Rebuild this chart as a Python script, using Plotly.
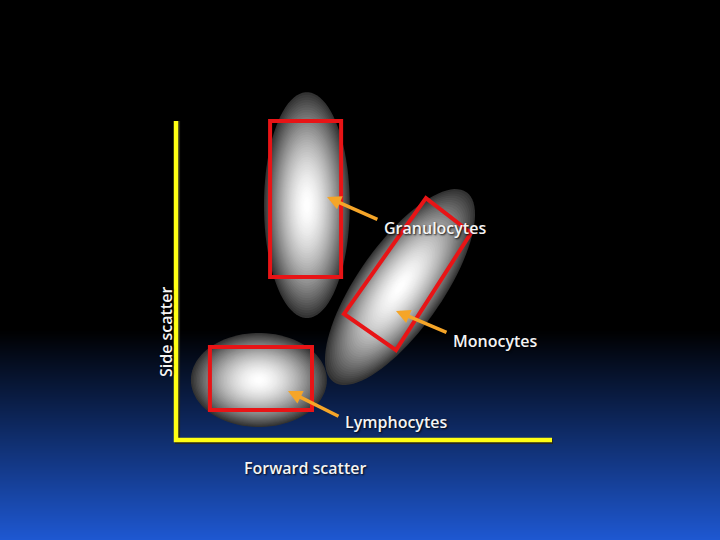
import numpy as np
import plotly.graph_objects as go

# ---- coordinate frame: origin at the yellow axis corner (equal units on both axes)
X_RANGE = [-55, 170]
Y_RANGE = [-31.25, 137.5]
AXIS_X_END = 117.5
AXIS_Y_END = 99.7

# ---- populations (ellipses)
population_names = ["Granulocytes", "Monocytes", "Lymphocytes"]
ellipse_cx = [40.9, 70.0, 25.9]
ellipse_cy = [73.4, 47.8, 18.75]
ellipse_a = [13.4, 36.2, 21.25]
ellipse_b = [35.3, 13.3, 14.7]
ellipse_angle = [0, 55, 0]

# ---- gates (red boxes), corners
gran_gate_x = [29.4, 51.6, 51.6, 29.4]
gran_gate_y = [99.7, 99.7, 50.9, 50.9]
mono_gate_x = [78.1, 92.2, 68.75, 52.5]
mono_gate_y = [75.6, 64.7, 28.1, 39.4]
lymph_gate_x = [10.6, 42.5, 42.5, 10.6]
lymph_gate_y = [29.1, 29.1, 9.4, 9.4]

# ---- arrows and labels
arrow_tail_x = [63.4, 85.0, 51.25]
arrow_tail_y = [68.75, 33.4, 7.2]
arrow_head_x = [47.2, 68.75, 35.0]
arrow_head_y = [75.9, 40.3, 15.3]
label_x = [80.9, 99.7, 68.75]
label_y = [66.25, 30.9, 5.6]

x_title = "Forward scatter"
y_title = "Side scatter"
x_title_pos = (40.3, -8.75)
y_title_pos = (-3.1, 33.75)

FONT = "Open Sans"
TEXT_COLOR = "#F4F4F4"
TEXT_FONT = dict(family=FONT, size=16, color=TEXT_COLOR, weight=600,
                 shadow="1px 1px 2px rgba(0,0,0,0.9)")

fig = go.Figure()

# background gradient (black top -> blue bottom)
bg_y = np.linspace(Y_RANGE[0], Y_RANGE[1], 60)
px_rows = 440 - bg_y * 3.2
bg_v = np.clip((330 - px_rows) / (330 - 540), 0, 1)
fig.add_trace(go.Heatmap(
    x=[X_RANGE[0] - 5, X_RANGE[1] + 5], y=bg_y,
    z=[[v, v] for v in bg_v], zmin=0, zmax=1, zsmooth="best",
    colorscale=[[0, "rgb(0,0,0)"], [1, "rgb(30,88,210)"]],
    showscale=False, hoverinfo="skip"))

shapes = []

def ellipse_path(cx, cy, a, b, ang, s, n=90):
    t = np.linspace(0, 2 * np.pi, n, endpoint=False)
    th = np.deg2rad(ang)
    ex = s * a * np.cos(t)
    ey = s * b * np.sin(t)
    xs = cx + ex * np.cos(th) - ey * np.sin(th)
    ys = cy + ex * np.sin(th) + ey * np.cos(th)
    pts = " L ".join(f"{x:.3f},{y:.3f}" for x, y in zip(xs, ys))
    return f"M {pts} Z"

levels = np.linspace(1.0, 0.03, 45)
for i in range(3):
    for s in levels:
        v = 255 - 205 * s ** 1.7
        c = int(round(v))
        shapes.append(dict(type="path", xref="x", yref="y",
                           path=ellipse_path(ellipse_cx[i], ellipse_cy[i], ellipse_a[i],
                                             ellipse_b[i], ellipse_angle[i], s),
                           fillcolor=f"rgb({c},{c},{c})", line=dict(width=0)))

def poly_path(xs, ys):
    return "M " + " L ".join(f"{x},{y}" for x, y in zip(xs, ys)) + " Z"

for gx, gy in [(gran_gate_x, gran_gate_y), (mono_gate_x, mono_gate_y), (lymph_gate_x, lymph_gate_y)]:
    shapes.append(dict(type="path", xref="x", yref="y", path=poly_path(gx, gy),
                       line=dict(color="rgb(232,20,22)", width=4), fillcolor="rgba(0,0,0,0)"))

# yellow axes with a dark shadow
axis_path = f"M 0,{AXIS_Y_END} L 0,0 L {AXIS_X_END},0"
shadow_path = f"M 0.5,{AXIS_Y_END} L 0.5,-0.5 L {AXIS_X_END + 0.3},-0.5"
shapes.append(dict(type="path", xref="x", yref="y", path=shadow_path,
                   line=dict(color="rgb(40,40,30)", width=5)))
shapes.append(dict(type="path", xref="x", yref="y", path=axis_path,
                   line=dict(color="rgb(255,255,20)", width=4.5)))

annotations = []
for i in range(3):
    annotations.append(dict(x=arrow_head_x[i], y=arrow_head_y[i], xref="x", yref="y",
                            ax=arrow_tail_x[i], ay=arrow_tail_y[i], axref="x", ayref="y",
                            text="", showarrow=True, arrowhead=2, arrowsize=0.8,
                            arrowwidth=3.5, arrowcolor="rgb(245,165,40)", standoff=0))
    annotations.append(dict(x=label_x[i], y=label_y[i], xref="x", yref="y",
                            text=population_names[i], showarrow=False, font=TEXT_FONT))
annotations.append(dict(x=x_title_pos[0], y=x_title_pos[1], xref="x", yref="y",
                        text=x_title, showarrow=False, font=TEXT_FONT))
annotations.append(dict(x=y_title_pos[0], y=y_title_pos[1], xref="x", yref="y",
                        text=y_title, showarrow=False, textangle=-90, font=TEXT_FONT))

fig.update_layout(
    width=720, height=540, margin=dict(l=0, r=0, t=0, b=0),
    paper_bgcolor="black", plot_bgcolor="black",
    xaxis=dict(range=X_RANGE, visible=False, fixedrange=True),
    yaxis=dict(range=Y_RANGE, visible=False, fixedrange=True),
    shapes=shapes, annotations=annotations, showlegend=False)

fig.write_html("out.html", config={"displayModeBar": False},
               post_script="document.body.style.margin='0';document.body.style.overflow='hidden';")
